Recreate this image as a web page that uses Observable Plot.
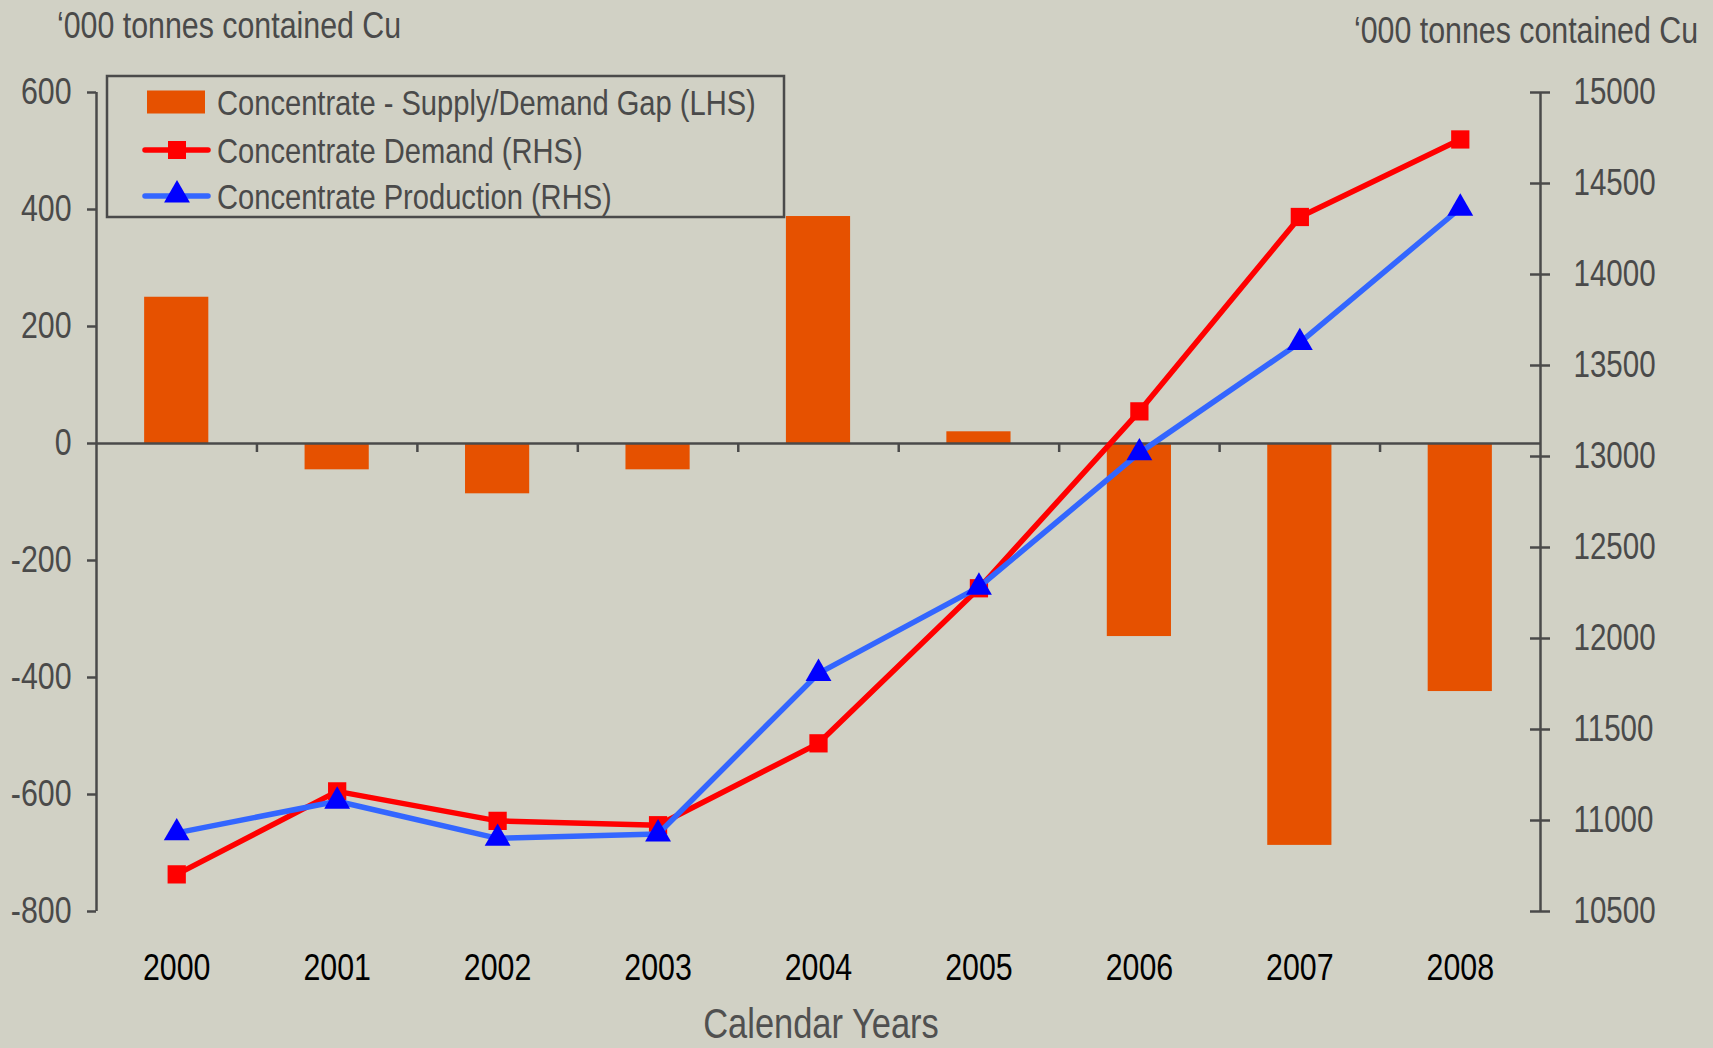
<!DOCTYPE html>
<html>
<head>
<meta charset="utf-8">
<script src="https://cdn.jsdelivr.net/npm/d3@7"></script>
<script src="https://cdn.jsdelivr.net/npm/@observablehq/plot@0.6"></script>
<style>
  html, body { margin: 0; padding: 0; background: #d1d1c5; }
  #wrap { position: relative; width: 1713px; height: 1048px; overflow: hidden; background: #d1d1c5; }
  #wrap > svg { position: absolute; left: 0; top: 0; }
  .overlay { position: absolute; left: 0; top: 0; pointer-events: none; }
</style>
</head>
<body>
<div id="wrap"></div>
<script>
// ---------------- data ----------------
const years = [2000, 2001, 2002, 2003, 2004, 2005, 2006, 2007, 2008];
const gap = [250, -45, -86, -45, 388, 20, -330, -687, -424];                  // LHS
const demand = [10704, 11160, 10998, 10974, 11424, 12276, 13248, 14316, 14742];   // RHS
const production = [10932, 11106, 10902, 10926, 11808, 12282, 13020, 13626, 14364]; // RHS
const leftTicks = [600, 400, 200, 0, -200, -400, -600, -800];
const rightTicks = [15000, 14500, 14000, 13500, 13000, 12500, 12000, 11500, 11000, 10500];
const leftDomain = [-800, 600];
const rightDomain = [10500, 15000];
const seriesNames = ["Concentrate - Supply/Demand Gap (LHS)", "Concentrate Demand (RHS)", "Concentrate Production (RHS)"];
const axisTitle = "\u2018000 tonnes contained Cu";
const xTitle = "Calendar Years";

const FONT = "'Liberation Sans', Arial, sans-serif";
const NARROW = 0.82; // emulate a narrow face

// ---------------- scales helpers ----------------
const toL = v => leftDomain[0] + (v - rightDomain[0]) * (leftDomain[1] - leftDomain[0]) / (rightDomain[1] - rightDomain[0]);
const fromL = v => rightDomain[0] + (v - leftDomain[0]) * (rightDomain[1] - rightDomain[0]) / (leftDomain[1] - leftDomain[0]);
const xDomain = [years[0] - 0.5, years[years.length - 1] + 0.5];
const rows = years.map((y, i) => ({ year: y, gap: gap[i], demand: toL(demand[i]), production: toL(production[i]) }));
const boundaries = years.slice(0, -1).map(y => y + 0.5);

const AX = "#4a4a4a";
const W = 1713, H = 1048;
const mL = 96, mR = 173, mT = 92, mB = 137;
const LW = 5.5;

const chart = Plot.plot({
  width: W, height: H,
  marginLeft: mL, marginRight: mR, marginTop: mT, marginBottom: mB,
  style: { background: "transparent", fontFamily: FONT, fontSize: "37px", color: AX, overflow: "visible" },
  x: { domain: xDomain, axis: null },
  y: { domain: leftDomain, axis: null },
  marks: [
    Plot.rectY(rows, { x1: d => d.year - 0.2, x2: d => d.year + 0.2, y1: 0, y2: "gap", fill: "#e65100" }),
    Plot.ruleY([0], { stroke: AX, strokeWidth: 2.5 }),
    Plot.ruleX(boundaries, { y1: 0, y2: 0, insetBottom: -9, stroke: AX, strokeWidth: 2.5 }),
    Plot.ruleX([xDomain[0]], { stroke: AX, strokeWidth: 2.5 }),
    Plot.ruleX([xDomain[1]], { stroke: AX, strokeWidth: 2.5 }),
    Plot.axisY(leftTicks, { anchor: "left", tickSize: 9, tickPadding: 16, strokeWidth: 2.5, tickFormat: d => String(d), fontSize: 37, label: null }),
    Plot.ruleY(rightTicks.map(toL), { x1: xDomain[1], x2: xDomain[1], insetLeft: -10, insetRight: -10, stroke: AX, strokeWidth: 2.5 }),
    Plot.axisY(rightTicks.map(toL), { anchor: "right", tickSize: 0, tickPadding: 33, tickFormat: d => String(Math.round(fromL(d))), fontSize: 36, label: null }),
    Plot.axisX(years, { anchor: "bottom", tickSize: 0, tickPadding: 42, tickFormat: d => String(d), fontSize: 37, color: "#000", label: null }),
    Plot.line(rows, { x: "year", y: "demand", stroke: "#ff0000", strokeWidth: LW }),
    Plot.dot(rows, { x: "year", y: "demand", symbol: "square", r: 10.3, fill: "#ff0000", stroke: "none" }),
    Plot.line(rows, { x: "year", y: "production", stroke: "#3366ff", strokeWidth: LW }),
    Plot.dot(rows, { x: "year", y: "production", symbol: "triangle", r: 9.6, fill: "#0000ff", stroke: "none" })
  ]
});
const wrap = document.getElementById("wrap");
wrap.appendChild(chart);

// ---------------- overlay: titles + legend ----------------
const ov = d3.select(wrap).append("svg").attr("class", "overlay").attr("width", W).attr("height", H)
  .style("font-family", FONT);

ov.append("text").attr("x", 57).attr("y", 38).attr("fill", AX).attr("font-size", 37).text(axisTitle);
ov.append("text").attr("x", 821).attr("y", 1038).attr("text-anchor", "middle").attr("fill", "#505050").attr("font-size", 42).text(xTitle);

const lg = ov.append("g");
lg.append("rect").attr("x", 107).attr("y", 76).attr("width", 677).attr("height", 141)
  .attr("fill", "none").attr("stroke", AX).attr("stroke-width", 2.5);
const rowY = [102, 150, 196];
lg.append("rect").attr("x", 147).attr("y", rowY[0] - 11.5).attr("width", 58).attr("height", 23).attr("fill", "#e65100");
lg.append("line").attr("x1", 145).attr("x2", 208).attr("y1", rowY[1]).attr("y2", rowY[1]).attr("stroke", "#ff0000").attr("stroke-width", LW).attr("stroke-linecap", "round");
lg.append("rect").attr("x", 177 - 9).attr("y", rowY[1] - 9).attr("width", 18).attr("height", 18).attr("fill", "#ff0000");
lg.append("line").attr("x1", 145).attr("x2", 208).attr("y1", rowY[2]).attr("y2", rowY[2]).attr("stroke", "#3366ff").attr("stroke-width", LW).attr("stroke-linecap", "round");
lg.append("path").attr("d", d3.symbol(d3.symbolTriangle, Math.PI * 9.6 * 9.6)()).attr("transform", `translate(177,${rowY[2] - 1})`).attr("fill", "#0000ff");
seriesNames.forEach((s, i) => {
  lg.append("text").attr("x", 217).attr("y", rowY[i] + 13).attr("fill", AX).attr("font-size", 35.5).text(s);
});

// ---------------- narrow the glyphs (no condensed face installed) ----------------
function narrow(root) {
  root.querySelectorAll("text").forEach(t => {
    const len = t.getComputedTextLength();
    if (len > 0) {
      t.setAttribute("textLength", (len * NARROW).toFixed(2));
      t.setAttribute("lengthAdjust", "spacingAndGlyphs");
    }
  });
}
narrow(chart);
narrow(ov.node());

// right-aligned title, narrowed with a horizontal scale so its box ends at x = 1698
{
  const g = ov.append("g").attr("transform", `translate(1698,43) scale(${NARROW},1)`);
  g.append("text").attr("x", 0).attr("y", 0).attr("text-anchor", "end")
    .attr("fill", AX).attr("font-size", 37).text(axisTitle);
}
</script>
</body>
</html>
